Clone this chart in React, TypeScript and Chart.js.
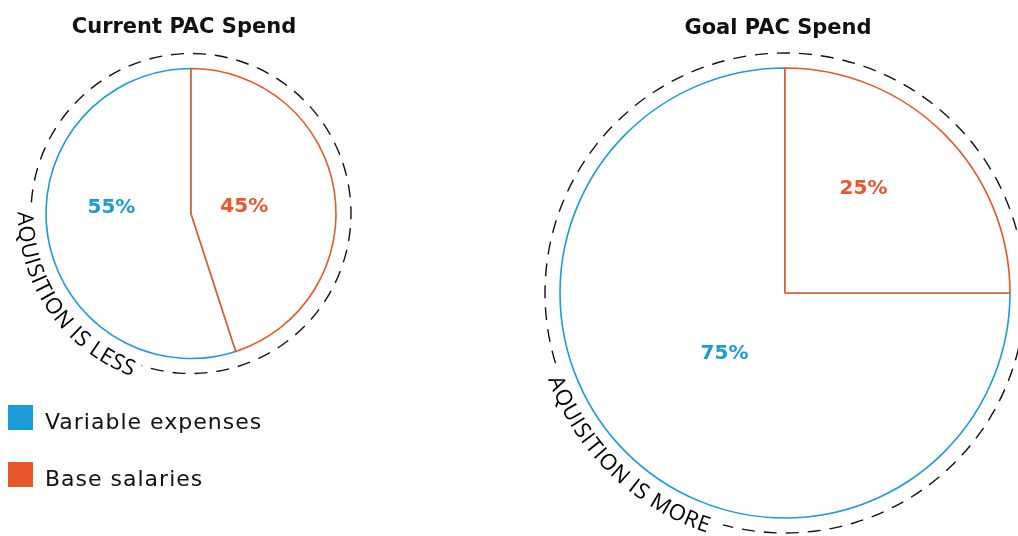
import React, { useEffect, useRef } from "react";
import { Chart, registerables } from "chart.js";

Chart.register(...registerables);

// ---------- data ----------
const categories = ["Variable expenses", "Base salaries"];
const currentValues = [55, 45];
const goalValues = [75, 25];
const chartTitles = ["Current PAC Spend", "Goal PAC Spend"];
const arcCaptions = ["AQUISITION IS LESS", "AQUISITION IS MORE"];

// ---------- style ----------
const BLUE = "#1b9bd7";
const ORANGE = "#e8572a";
const sliceColors = [BLUE, ORANGE];
const W = 1018;
const H = 536;
const TITLE_FONT = "bold 21px 'DejaVu Sans', sans-serif";
const LABEL_FONT = "bold 20px 'DejaVu Sans', sans-serif";
const LEGEND_FONT = "22px 'DejaVu Sans', sans-serif";
const CAPTION_FONT = "22px 'Open Sans', 'DejaVu Sans', sans-serif";

type Deco = {
  title: string;
  titleShift: number;
  titleBaseline: number;
  labelRadius: number[];
  labelShiftDeg: number[];
  ringRadius: number;
  ringGap: [number, number];
  caption: string;
  captionRadius: number;
  captionSpan: [number, number];
  legend: boolean;
};

const rad = (d: number) => (d * Math.PI) / 180;

const decoPlugin = {
  id: "deco",
  afterDatasetsDraw(chart: any, _args: any, opts: Deco) {
    const ctx: CanvasRenderingContext2D = chart.ctx;
    const meta = chart.getDatasetMeta(0);
    const arcs = meta.data as any[];
    if (!arcs.length) return;
    const cx = arcs[0].x;
    const cy = arcs[0].y;
    const ds = chart.data.datasets[0];
    ctx.save();

    // percentage labels
    ctx.font = LABEL_FONT;
    ctx.textAlign = "center";
    ctx.textBaseline = "middle";
    arcs.forEach((a: any, i: number) => {
      const mid = (a.startAngle + a.endAngle) / 2 + rad(opts.labelShiftDeg[i]);
      const r = a.outerRadius * opts.labelRadius[i];
      ctx.fillStyle = ds.borderColor[i];
      ctx.fillText(`${ds.data[i]}%`, cx + r * Math.cos(mid), cy + r * Math.sin(mid));
    });

    // title
    ctx.fillStyle = "#111";
    ctx.font = TITLE_FONT;
    ctx.textBaseline = "alphabetic";
    ctx.fillText(opts.title, cx + opts.titleShift, opts.titleBaseline);

    // dashed ring
    ctx.strokeStyle = "#111";
    ctx.lineWidth = 1.4;
    ctx.setLineDash([13, 9]);
    ctx.beginPath();
    ctx.arc(cx, cy, opts.ringRadius, rad(opts.ringGap[1]), rad(opts.ringGap[0]), false);
    ctx.stroke();
    ctx.setLineDash([]);

    // curved caption
    ctx.font = CAPTION_FONT;
    ctx.fillStyle = "#000";
    ctx.textAlign = "center";
    ctx.textBaseline = "alphabetic";
    const chars = opts.caption.split("");
    const widths = chars.map((c) => ctx.measureText(c).width);
    const total = widths.reduce((s, w) => s + w, 0);
    const rb = opts.captionRadius;
    const arcLen = rad(opts.captionSpan[0] - opts.captionSpan[1]) * rb;
    const extra = (arcLen - total) / (chars.length - 1);
    let p = 0;
    chars.forEach((c, i) => {
      const phi = rad(opts.captionSpan[0]) - (p + widths[i] / 2) / rb;
      ctx.save();
      ctx.translate(cx + rb * Math.cos(phi), cy + rb * Math.sin(phi));
      ctx.rotate(phi - Math.PI / 2);
      ctx.fillText(c, 0, 0);
      ctx.restore();
      p += widths[i] + extra;
    });

    // legend
    if (opts.legend) {
      ctx.font = LEGEND_FONT;
      (ctx as any).letterSpacing = "1px";
      ctx.textAlign = "left";
      ctx.textBaseline = "alphabetic";
      (chart.data.labels as string[]).forEach((label, k) => {
        const top = 405 + k * 57;
        ctx.fillStyle = ds.borderColor[k];
        ctx.fillRect(8, top, 25, 25);
        ctx.fillStyle = "#111";
        ctx.fillText(label, 45, top + 24);
      });
      (ctx as any).letterSpacing = "0px";
    }
    ctx.restore();
  },
};

function PieCanvas(props: {
  values: number[];
  radius: number;
  padding: { left: number; right: number; top: number; bottom: number };
  deco: Deco;
}) {
  const ref = useRef<HTMLCanvasElement | null>(null);
  useEffect(() => {
    if (!ref.current) return;
    const total = props.values.reduce((s, v) => s + v, 0);
    // the base-salary slice starts at 12 o'clock and runs clockwise
    const rotation = (360 * props.values[1]) / total;
    const chart = new Chart(ref.current, {
      type: "pie",
      data: {
        labels: categories,
        datasets: [
          {
            data: props.values,
            backgroundColor: "#ffffff",
            borderColor: sliceColors,
            borderWidth: 1.6,
            radius: props.radius,
          } as any,
        ],
      },
      options: {
        responsive: false,
        animation: false,
        events: [],
        rotation,
        layout: { padding: props.padding },
        plugins: {
          legend: { display: false },
          tooltip: { enabled: false },
          deco: props.deco,
        } as any,
      } as any,
      plugins: [decoPlugin as any],
    });
    return () => chart.destroy();
  }, []);
  return (
    <canvas
      ref={ref}
      width={W}
      height={H}
      style={{ position: "absolute", left: 0, top: 0, width: W, height: H }}
    />
  );
}

export default function App() {
  return (
    <div
      style={{
        position: "fixed",
        left: 0,
        top: 0,
        width: W,
        height: H,
        background: "#fff",
        overflow: "hidden",
      }}
    >
      <PieCanvas
        values={currentValues}
        radius={145}
        padding={{ left: 0, right: W - 382, top: 0, bottom: H - 427 }}
        deco={{
          title: chartTitles[0],
          titleShift: -7,
          titleBaseline: 33,
          labelRadius: [0.55, 0.37],
          labelShiftDeg: [13, 2],
          ringRadius: 160,
          ringGap: [108, 184],
          caption: arcCaptions[0],
          captionRadius: 173,
          captionSpan: [180.5, 110],
          legend: true,
        }}
      />
      <PieCanvas
        values={goalValues}
        radius={225}
        padding={{ left: 552, right: 0, top: 50, bottom: 0 }}
        deco={{
          title: chartTitles[1],
          titleShift: -7,
          titleBaseline: 34,
          labelRadius: [0.38, 0.58],
          labelShiftDeg: [0, -8],
          ringRadius: 240,
          ringGap: [105, 163],
          caption: arcCaptions[1],
          captionRadius: 252,
          captionSpan: [160, 108],
          legend: false,
        }}
      />
    </div>
  );
}
